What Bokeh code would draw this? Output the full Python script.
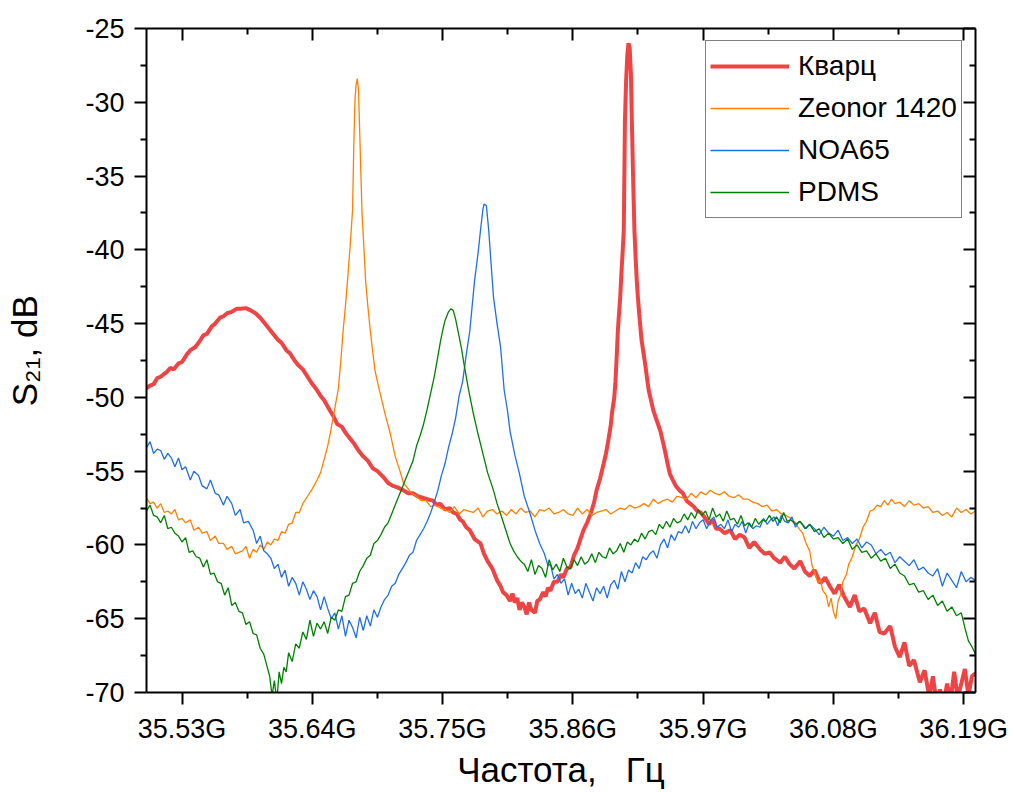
from bokeh.plotting import figure
from bokeh.models import FixedTicker, LinearAxis, CustomJSTickFormatter, Range1d
from bokeh.embed import file_html
from bokeh.resources import INLINE

# ---------------- data (frequency in GHz, S21 in dB) ----------------
freq_kvarc = [35.500, 35.503, 35.506, 35.509, 35.512, 35.515, 35.517, 35.520, 35.523, 35.527,
              35.530, 35.534, 35.537, 35.541, 35.544, 35.548, 35.551, 35.555, 35.558, 35.562,
              35.565, 35.568, 35.572, 35.576, 35.579, 35.584, 35.588, 35.592, 35.596, 35.601,
              35.604, 35.607, 35.611, 35.614, 35.618, 35.621, 35.625, 35.628, 35.632, 35.636,
              35.640, 35.643, 35.647, 35.650, 35.655, 35.658, 35.661, 35.665, 35.668, 35.672,
              35.675, 35.679, 35.683, 35.687, 35.691, 35.695, 35.700, 35.704, 35.708, 35.712,
              35.717, 35.721, 35.725, 35.729, 35.733, 35.737, 35.742, 35.745, 35.748, 35.752,
              35.756, 35.759, 35.762, 35.765, 35.767, 35.770, 35.773, 35.777, 35.782, 35.785,
              35.788, 35.792, 35.796, 35.799, 35.801, 35.804, 35.807, 35.809, 35.811, 35.813,
              35.815, 35.817, 35.819, 35.821, 35.823, 35.825, 35.828, 35.830, 35.832, 35.835,
              35.837, 35.839, 35.841, 35.844, 35.847, 35.850, 35.852, 35.855, 35.858, 35.861,
              35.864, 35.866, 35.869, 35.872, 35.875, 35.878, 35.880, 35.883, 35.886, 35.888,
              35.890, 35.892, 35.893, 35.895, 35.896, 35.897, 35.898, 35.899, 35.900, 35.901,
              35.902, 35.903, 35.9035, 35.904, 35.905, 35.906, 35.907, 35.908, 35.909, 35.910,
              35.911, 35.912, 35.913, 35.914, 35.915, 35.916, 35.918, 35.921, 35.924, 35.926,
              35.928, 35.931, 35.934, 35.936, 35.938, 35.940, 35.942, 35.945, 35.947, 35.950,
              35.953, 35.956, 35.959, 35.962, 35.965, 35.968, 35.971, 35.975, 35.978, 35.981,
              35.984, 35.988, 35.993, 35.997, 36.001, 36.005, 36.009, 36.013, 36.018, 36.022,
              36.026, 36.030, 36.035, 36.039, 36.043, 36.047, 36.052, 36.056, 36.060, 36.064,
              36.069, 36.073, 36.077, 36.081, 36.085, 36.089, 36.094, 36.098, 36.102, 36.106,
              36.111, 36.115, 36.119, 36.123, 36.128, 36.132, 36.136, 36.140, 36.144, 36.148,
              36.153, 36.157, 36.161, 36.164, 36.167, 36.170, 36.173, 36.176, 36.179, 36.182,
              36.185, 36.188, 36.191, 36.194, 36.197, 36.200]
s21_kvarc = [-49.4, -49.2, -49.1, -48.7, -48.6, -48.4, -48.3, -48.0, -48.1, -47.7,
             -47.6, -47.1, -46.8, -46.6, -46.3, -45.8, -45.7, -45.2, -45.0, -44.6,
             -44.5, -44.3, -44.2, -44.0, -44.0, -43.95, -44.1, -44.3, -44.6, -45.1,
             -45.4, -45.7, -46.1, -46.3, -46.8, -47.0, -47.5, -47.8, -48.1, -48.6,
             -49.1, -49.4, -49.9, -50.2, -50.9, -51.3, -51.8, -52.0, -52.4, -52.8,
             -53.1, -53.6, -54.0, -54.3, -54.8, -55.0, -55.4, -55.8, -56.0, -56.1,
             -56.3, -56.5, -56.5, -56.7, -56.8, -56.9, -57.0, -57.3, -57.2, -57.6,
             -57.5, -57.8, -57.9, -58.3, -58.4, -58.8, -59.0, -59.6, -59.9, -60.6,
             -61.1, -61.6, -62.4, -62.8, -63.2, -63.4, -63.8, -63.3, -63.9, -63.6,
             -64.4, -63.9, -64.2, -64.7, -63.9, -64.4, -64.6, -63.8, -63.7, -63.2,
             -63.5, -62.9, -63.1, -62.5, -62.5, -62.0, -62.2, -61.6, -61.5, -60.7,
             -60.2, -59.7, -59.0, -58.5, -57.9, -57.1, -56.3, -55.5, -54.5, -53.8,
             -52.9, -51.9, -51.1, -50.0, -48.9, -47.3, -45.5, -44.3, -43.2, -41.6,
             -40.2, -38.7, -35.0, -31.2, -28.5, -26.8, -26.0, -26.3, -28.0, -31.9,
             -35.5, -38.7, -40.5, -42.1, -43.3, -44.3, -46.1, -47.7, -49.5, -50.2,
             -50.9, -51.6, -52.3, -53.0, -53.7, -54.5, -55.2, -55.7, -56.0, -56.3,
             -56.5, -57.0, -57.2, -57.4, -57.7, -57.8, -58.1, -58.6, -58.3, -58.9,
             -58.9, -59.2, -59.0, -59.6, -59.3, -59.5, -60.2, -59.8, -60.3, -60.6,
             -60.5, -60.9, -61.2, -60.8, -61.3, -61.6, -61.1, -61.8, -62.1, -61.7,
             -62.6, -62.2, -62.8, -63.3, -62.7, -63.5, -64.2, -63.4, -64.5, -64.3,
             -65.3, -64.6, -65.9, -66.0, -65.5, -66.9, -67.6, -66.6, -68.2, -67.8,
             -69.3, -68.5, -70.3, -68.9, -70.6, -69.8, -70.8, -69.4, -70.5, -68.6,
             -70.4, -69.4, -68.4, -70.2, -68.9, -68.7]

freq_zeonor = [35.500, 35.503, 35.506, 35.509, 35.512, 35.515, 35.518, 35.521, 35.524, 35.527,
               35.530, 35.533, 35.537, 35.540, 35.544, 35.547, 35.551, 35.554, 35.558, 35.561,
               35.565, 35.568, 35.572, 35.575, 35.578, 35.581, 35.584, 35.587, 35.590, 35.593,
               35.596, 35.599, 35.602, 35.605, 35.608, 35.611, 35.614, 35.617, 35.620, 35.623,
               35.626, 35.629, 35.632, 35.636, 35.640, 35.644, 35.647, 35.650, 35.653, 35.655,
               35.658, 35.660, 35.662, 35.664, 35.666, 35.668, 35.670, 35.672, 35.674, 35.675,
               35.676, 35.677, 35.678, 35.679, 35.680, 35.681, 35.682, 35.684, 35.685, 35.687,
               35.689, 35.691, 35.693, 35.696, 35.699, 35.702, 35.706, 35.710, 35.714, 35.717,
               35.720, 35.724, 35.728, 35.732, 35.736, 35.740, 35.744, 35.748, 35.752, 35.756,
               35.760, 35.764, 35.768, 35.772, 35.776, 35.780, 35.784, 35.788, 35.792, 35.796,
               35.800, 35.804, 35.808, 35.812, 35.816, 35.820, 35.824, 35.828, 35.832, 35.836,
               35.840, 35.844, 35.848, 35.852, 35.856, 35.860, 35.864, 35.868, 35.872, 35.876,
               35.880, 35.884, 35.888, 35.892, 35.896, 35.900, 35.904, 35.908, 35.912, 35.916,
               35.920, 35.924, 35.928, 35.932, 35.936, 35.940, 35.944, 35.948, 35.952, 35.956,
               35.960, 35.964, 35.968, 35.972, 35.976, 35.980, 35.984, 35.988, 35.992, 35.996,
               36.000, 36.004, 36.008, 36.012, 36.016, 36.020, 36.024, 36.028, 36.032, 36.036,
               36.040, 36.044, 36.048, 36.051, 36.054, 36.057, 36.060, 36.062, 36.064, 36.067,
               36.069, 36.071, 36.074, 36.076, 36.078, 36.080, 36.082, 36.084, 36.086, 36.088,
               36.091, 36.093, 36.096, 36.099, 36.102, 36.105, 36.108, 36.111, 36.114, 36.117,
               36.120, 36.123, 36.126, 36.129, 36.132, 36.136, 36.140, 36.144, 36.148, 36.152,
               36.156, 36.160, 36.164, 36.168, 36.172, 36.176, 36.180, 36.184, 36.188, 36.192,
               36.196, 36.200]
s21_zeonor = [-56.8, -57.2, -57.1, -57.5, -57.2, -57.8, -57.7, -57.9, -57.6, -58.3,
              -58.2, -58.5, -58.3, -59.0, -58.8, -59.2, -59.1, -59.7, -59.4, -59.9,
              -59.9, -60.3, -60.1, -60.6, -60.5, -60.4, -60.1, -60.9, -60.3, -60.5,
              -60.0, -60.3, -59.8, -60.0, -59.6, -59.7, -59.1, -59.2, -58.6, -58.5,
              -57.8, -57.8, -57.2, -56.7, -56.2, -55.6, -55.1, -54.2, -53.3, -52.5,
              -51.2, -50.3, -49.4, -47.6, -45.5, -43.8, -41.8, -39.7, -37.3, -33.1,
              -29.9, -28.8, -28.4, -29.2, -31.9, -34.8, -37.5, -40.5, -42.1, -43.9,
              -45.5, -46.9, -48.2, -49.3, -50.3, -51.3, -52.5, -54.0, -55.0, -55.8,
              -56.1, -56.5, -56.7, -57.0, -57.0, -57.4, -57.3, -57.5, -57.6, -57.8,
              -57.4, -57.9, -57.6, -57.7, -57.8, -57.5, -58.1, -57.7, -57.6, -57.9,
              -57.7, -58.0, -57.6, -57.9, -57.5, -57.8, -57.7, -58.1, -57.6, -57.7,
              -57.5, -57.9, -57.8, -57.6, -57.9, -58.0, -57.5, -57.9, -57.6, -58.0,
              -57.8, -57.7, -57.6, -57.9, -57.7, -57.5, -57.6, -57.3, -57.5, -57.4,
              -57.2, -57.4, -56.9, -57.2, -57.0, -56.9, -57.1, -56.7, -56.8, -56.9,
              -56.5, -56.8, -56.4, -56.6, -56.3, -56.5, -56.6, -56.4, -56.7, -56.8,
              -56.6, -56.9, -56.9, -57.1, -57.2, -57.4, -57.3, -57.7, -57.6, -57.9,
              -58.0, -58.2, -58.5, -58.9, -59.2, -59.9, -60.4, -61.4, -61.8, -62.6,
              -62.3, -63.1, -63.4, -64.2, -63.6, -64.5, -65.0, -63.8, -63.4, -62.5,
              -62.0, -61.3, -60.8, -60.0, -59.6, -58.8, -58.4, -57.7, -57.6, -57.3,
              -57.4, -57.0, -57.3, -56.9, -57.2, -57.1, -57.4, -57.0, -57.3, -57.2,
              -57.5, -57.4, -57.8, -57.7, -58.0, -57.8, -58.1, -57.5, -57.8, -57.6,
              -57.9, -57.7]

freq_noa65 = [35.500, 35.503, 35.506, 35.509, 35.512, 35.515, 35.518, 35.521, 35.524, 35.527,
              35.530, 35.533, 35.537, 35.540, 35.544, 35.547, 35.551, 35.554, 35.558, 35.561,
              35.565, 35.568, 35.572, 35.575, 35.579, 35.582, 35.586, 35.590, 35.593, 35.596,
              35.599, 35.602, 35.605, 35.608, 35.611, 35.614, 35.617, 35.620, 35.623, 35.626,
              35.629, 35.632, 35.635, 35.638, 35.641, 35.644, 35.647, 35.650, 35.653, 35.656,
              35.659, 35.662, 35.665, 35.668, 35.671, 35.674, 35.677, 35.680, 35.683, 35.686,
              35.689, 35.692, 35.695, 35.698, 35.701, 35.704, 35.707, 35.710, 35.713, 35.716,
              35.719, 35.722, 35.725, 35.728, 35.731, 35.734, 35.737, 35.740, 35.743, 35.746,
              35.749, 35.752, 35.755, 35.758, 35.761, 35.764, 35.767, 35.770, 35.773, 35.775,
              35.777, 35.780, 35.782, 35.784, 35.785, 35.787, 35.789, 35.791, 35.793, 35.796,
              35.799, 35.802, 35.805, 35.807, 35.811, 35.815, 35.819, 35.824, 35.828, 35.832,
              35.836, 35.839, 35.841, 35.844, 35.847, 35.850, 35.853, 35.856, 35.859, 35.862,
              35.865, 35.868, 35.871, 35.874, 35.877, 35.880, 35.883, 35.886, 35.889, 35.892,
              35.895, 35.898, 35.901, 35.904, 35.907, 35.910, 35.913, 35.916, 35.919, 35.922,
              35.925, 35.928, 35.931, 35.934, 35.937, 35.940, 35.943, 35.946, 35.949, 35.952,
              35.955, 35.958, 35.961, 35.964, 35.967, 35.970, 35.973, 35.976, 35.979, 35.982,
              35.985, 35.988, 35.991, 35.994, 35.997, 36.000, 36.003, 36.006, 36.009, 36.012,
              36.015, 36.018, 36.021, 36.024, 36.027, 36.030, 36.033, 36.036, 36.039, 36.042,
              36.045, 36.048, 36.051, 36.054, 36.057, 36.060, 36.064, 36.068, 36.072, 36.076,
              36.080, 36.084, 36.088, 36.092, 36.096, 36.100, 36.104, 36.108, 36.112, 36.116,
              36.120, 36.124, 36.128, 36.132, 36.136, 36.140, 36.144, 36.148, 36.152, 36.156,
              36.160, 36.164, 36.168, 36.172, 36.176, 36.180, 36.184, 36.188, 36.192, 36.196,
              36.200]
s21_noa65 = [-53.4, -53.0, -53.8, -53.5, -53.6, -54.2, -53.8, -54.1, -54.7, -54.1,
             -54.9, -54.7, -55.6, -55.0, -55.3, -56.0, -56.2, -55.6, -56.5, -56.6,
             -57.3, -56.7, -57.2, -58.0, -57.6, -58.5, -58.4, -59.0, -59.9, -59.4,
             -60.4, -60.6, -60.9, -61.6, -61.3, -62.2, -61.7, -62.8, -62.2, -62.6,
             -63.4, -62.5, -63.0, -63.7, -63.1, -63.5, -64.4, -63.5, -64.3, -65.0,
             -64.6, -65.7, -64.8, -66.2, -65.1, -65.6, -66.3, -64.9, -65.8, -64.8,
             -65.5, -64.4, -64.9, -64.2, -63.7, -63.4, -62.8, -62.6, -62.0, -61.6,
             -61.2, -60.7, -60.5, -59.7, -59.3, -58.9, -58.4, -57.8, -57.1, -56.3,
             -55.3, -54.5, -53.4, -52.5, -51.4, -49.9, -48.9, -47.1, -45.5, -43.8,
             -42.1, -40.2, -38.7, -37.3, -36.9, -37.0, -38.7, -41.0, -43.2, -45.0,
             -46.6, -49.5, -51.0, -52.3, -53.9, -55.2, -56.7, -57.9, -59.0, -59.9,
             -60.6, -61.4, -61.3, -62.3, -62.0, -62.6, -62.3, -63.4, -62.6, -63.3,
             -63.0, -63.6, -62.6, -63.2, -63.8, -62.9, -63.3, -62.8, -63.6, -62.7,
             -62.4, -63.0, -61.8, -62.5, -61.7, -61.9, -61.2, -61.6, -60.8, -61.0,
             -60.6, -60.4, -60.9, -60.0, -59.6, -60.2, -59.3, -59.7, -59.1, -59.2,
             -58.7, -59.2, -58.4, -58.9, -58.5, -58.3, -58.9, -58.4, -58.1, -58.8,
             -58.6, -58.9, -58.3, -59.1, -58.6, -58.8, -58.4, -59.2, -58.5, -58.9,
             -58.7, -58.8, -58.2, -58.6, -58.3, -58.1, -58.7, -58.0, -58.4, -58.5,
             -58.1, -58.8, -58.4, -58.6, -58.9, -58.6, -58.9, -59.3, -58.8, -59.2,
             -59.4, -59.0, -59.7, -59.5, -59.9, -59.6, -60.2, -59.8, -60.0, -60.6,
             -60.3, -60.7, -60.5, -61.2, -60.8, -61.1, -61.4, -61.0, -61.7, -61.5,
             -61.9, -62.1, -61.6, -62.8, -61.9, -62.4, -62.9, -61.8, -62.5, -62.2,
             -62.4]

freq_pdms = [35.500, 35.503, 35.506, 35.509, 35.512, 35.515, 35.518, 35.521, 35.524, 35.527,
             35.530, 35.533, 35.536, 35.539, 35.542, 35.545, 35.548, 35.551, 35.554, 35.557,
             35.560, 35.563, 35.566, 35.569, 35.572, 35.575, 35.578, 35.581, 35.584, 35.587,
             35.590, 35.593, 35.596, 35.599, 35.602, 35.604, 35.606, 35.608, 35.610, 35.612,
             35.614, 35.616, 35.618, 35.620, 35.623, 35.626, 35.629, 35.632, 35.635, 35.638,
             35.641, 35.644, 35.647, 35.650, 35.653, 35.656, 35.659, 35.662, 35.665, 35.668,
             35.671, 35.674, 35.677, 35.680, 35.683, 35.686, 35.689, 35.692, 35.695, 35.698,
             35.701, 35.704, 35.707, 35.710, 35.713, 35.716, 35.719, 35.722, 35.725, 35.728,
             35.731, 35.734, 35.737, 35.740, 35.743, 35.745, 35.748, 35.750, 35.752, 35.755,
             35.757, 35.759, 35.761, 35.763, 35.766, 35.768, 35.770, 35.772, 35.776, 35.780,
             35.784, 35.788, 35.793, 35.796, 35.799, 35.803, 35.807, 35.810, 35.813, 35.816,
             35.819, 35.822, 35.825, 35.828, 35.831, 35.834, 35.837, 35.840, 35.843, 35.846,
             35.849, 35.852, 35.855, 35.858, 35.861, 35.864, 35.867, 35.870, 35.873, 35.876,
             35.879, 35.882, 35.885, 35.888, 35.891, 35.894, 35.897, 35.900, 35.903, 35.906,
             35.909, 35.912, 35.915, 35.918, 35.921, 35.924, 35.927, 35.930, 35.933, 35.936,
             35.939, 35.942, 35.945, 35.948, 35.951, 35.954, 35.957, 35.960, 35.963, 35.966,
             35.969, 35.972, 35.975, 35.978, 35.981, 35.984, 35.987, 35.990, 35.993, 35.996,
             35.999, 36.002, 36.005, 36.008, 36.011, 36.014, 36.017, 36.020, 36.023, 36.026,
             36.029, 36.032, 36.035, 36.038, 36.041, 36.044, 36.048, 36.052, 36.056, 36.060,
             36.064, 36.068, 36.072, 36.076, 36.080, 36.084, 36.088, 36.092, 36.096, 36.100,
             36.104, 36.108, 36.112, 36.116, 36.120, 36.124, 36.128, 36.132, 36.136, 36.140,
             36.144, 36.148, 36.152, 36.156, 36.160, 36.164, 36.168, 36.172, 36.176, 36.180,
             36.184, 36.188, 36.191, 36.194, 36.197, 36.200]
s21_pdms = [-57.7, -57.3, -58.0, -58.1, -58.5, -58.0, -58.9, -58.8, -59.2, -59.4,
            -59.8, -59.5, -60.5, -60.4, -60.8, -60.9, -61.5, -61.0, -62.0, -61.9,
            -62.5, -62.6, -63.4, -62.9, -64.1, -63.9, -64.5, -64.6, -65.4, -65.2,
            -66.0, -66.1, -67.0, -67.4, -68.3, -68.9, -70.2, -69.2, -70.6, -68.6,
            -69.4, -68.3, -68.6, -67.3, -67.9, -66.7, -67.0, -65.9, -66.4, -65.1,
            -66.2, -65.3, -65.7, -65.2, -66.0, -64.9, -65.1, -64.4, -64.5, -63.5,
            -63.4, -62.6, -62.5, -61.8, -61.4, -60.9, -60.7, -59.9, -59.7, -59.3,
            -58.8, -58.5, -57.9, -57.3, -56.7, -56.1, -55.5, -54.9, -54.3, -53.3,
            -52.6, -51.8, -50.8, -49.7, -48.6, -47.7, -46.3, -45.5, -44.8, -44.2,
            -44.0, -44.1, -44.7, -45.5, -46.7, -47.7, -48.6, -49.5, -51.1, -52.5,
            -53.8, -55.1, -56.3, -57.2, -57.9, -58.9, -59.9, -60.4, -60.8, -61.1,
            -61.3, -61.8, -61.0, -62.0, -61.4, -61.6, -62.2, -61.0, -61.7, -61.3,
            -61.8, -60.9, -61.5, -61.6, -61.0, -61.4, -60.8, -61.3, -61.1, -60.6,
            -61.2, -60.5, -60.8, -60.9, -60.2, -60.6, -60.4, -59.9, -60.5, -59.8,
            -60.0, -59.6, -59.8, -59.2, -59.6, -59.1, -59.0, -59.3, -58.6, -58.9,
            -58.4, -58.8, -58.2, -58.5, -58.4, -57.9, -58.3, -57.8, -58.2, -57.6,
            -58.0, -57.7, -58.3, -57.5, -58.1, -57.9, -58.4, -57.7, -58.3, -58.2,
            -58.6, -58.0, -58.7, -58.5, -58.8, -58.2, -58.6, -58.3, -58.4, -58.0,
            -58.4, -58.1, -58.5, -57.8, -58.4, -58.3, -58.6, -58.4, -58.9, -58.6,
            -59.1, -58.9, -59.5, -59.2, -59.6, -59.5, -59.9, -59.6, -60.3, -60.0,
            -60.5, -60.4, -60.9, -60.6, -61.1, -60.9, -61.6, -61.3, -61.9, -62.1,
            -62.7, -62.6, -63.2, -63.1, -63.7, -63.4, -64.1, -63.8, -64.5, -64.2,
            -64.8, -64.6, -65.6, -66.5, -66.9, -67.4]

series_names = ["Кварц", "Zeonor 1420", "NOA65", "PDMS"]
x_title = "Частота, \u00a0 Гц"
y_title = "\u00a0\u00a0S₂₁, dB"

x_major_ticks = [35.53, 35.64, 35.75, 35.86, 35.97, 36.08, 36.19]
x_minor_ticks = [35.585, 35.695, 35.805, 35.915, 36.025, 36.135]
y_major_ticks = [-70, -65, -60, -55, -50, -45, -40, -35, -30, -25]
y_minor_ticks = [-67.5, -62.5, -57.5, -52.5, -47.5, -42.5, -37.5, -32.5, -27.5]

FONT = "Liberation Sans"

p = figure(width=1011, height=792, output_backend="svg", toolbar_location=None,
           x_range=Range1d(35.5, 36.2), y_range=Range1d(-70, -25),
           min_border_left=146, min_border_right=36, min_border_top=28,
           min_border_bottom=100)
p.background_fill_color = "white"
p.border_fill_color = "white"
p.outline_line_color = None
p.xgrid.visible = False
p.ygrid.visible = False

p.line(freq_kvarc, s21_kvarc, line_color="#F04444", line_width=4, legend_label=series_names[0])
p.line(freq_zeonor, s21_zeonor, line_color="#FF8000", line_width=1.3, legend_label=series_names[1])
p.line(freq_noa65, s21_noa65, line_color="#1F6FE5", line_width=1.3, legend_label=series_names[2])
p.line(freq_pdms, s21_pdms, line_color="#008000", line_width=1.3, legend_label=series_names[3])

xa = p.xaxis[0]
xa.ticker = FixedTicker(ticks=x_major_ticks, minor_ticks=x_minor_ticks)
xa.formatter = CustomJSTickFormatter(code="return tick.toFixed(2) + 'G';")
ya = p.yaxis[0]
ya.ticker = FixedTicker(ticks=y_major_ticks, minor_ticks=y_minor_ticks)
ya.formatter = CustomJSTickFormatter(code="return tick.toFixed(0);")

for ax in (xa, ya):
    ax.axis_line_width = 2
    ax.axis_line_color = "black"
    ax.major_tick_line_width = 2
    ax.minor_tick_line_width = 2
    ax.major_tick_line_color = "black"
    ax.minor_tick_line_color = "black"
    ax.major_tick_in = 0
    ax.major_tick_out = 12
    ax.minor_tick_in = 0
    ax.minor_tick_out = 6
    ax.major_label_text_font = FONT
    ax.major_label_text_font_size = "27px"
    ax.major_label_text_color = "black"
    ax.axis_label_text_font = FONT
    ax.axis_label_text_font_style = "normal"
    ax.axis_label_text_font_size = "35px"
    ax.axis_label_text_color = "black"

xa.axis_label = x_title
xa.major_label_standoff = 9
xa.axis_label_standoff = 3
ya.axis_label = y_title
ya.major_label_standoff = 10
ya.axis_label_standoff = 38

empty = CustomJSTickFormatter(code="return '';")
top = LinearAxis(ticker=FixedTicker(ticks=x_major_ticks, minor_ticks=x_minor_ticks), formatter=empty)
right = LinearAxis(ticker=FixedTicker(ticks=y_major_ticks, minor_ticks=y_minor_ticks), formatter=empty)
for ax in (top, right):
    ax.axis_line_width = 2
    ax.axis_line_color = "black"
    ax.major_tick_line_width = 2
    ax.minor_tick_line_width = 2
    ax.major_tick_in = 12
    ax.major_tick_out = 0
    ax.minor_tick_in = 6
    ax.minor_tick_out = 0
    ax.major_label_standoff = 0
    ax.major_label_text_font_size = "1px"
p.add_layout(top, "above")
p.add_layout(right, "right")

lg = p.legend[0]
lg.location = (559, 474)
lg.margin = 0
lg.padding = 4
lg.spacing = 0
lg.glyph_width = 79
lg.glyph_height = 42
lg.label_height = 42
lg.label_standoff = 9
lg.label_text_font = FONT
lg.label_text_font_size = "28px"
lg.label_text_color = "black"
lg.border_line_color = "black"
lg.border_line_width = 1.5
lg.background_fill_color = "white"
lg.background_fill_alpha = 1.0

open("out.html", "w").write(file_html(p, INLINE))
